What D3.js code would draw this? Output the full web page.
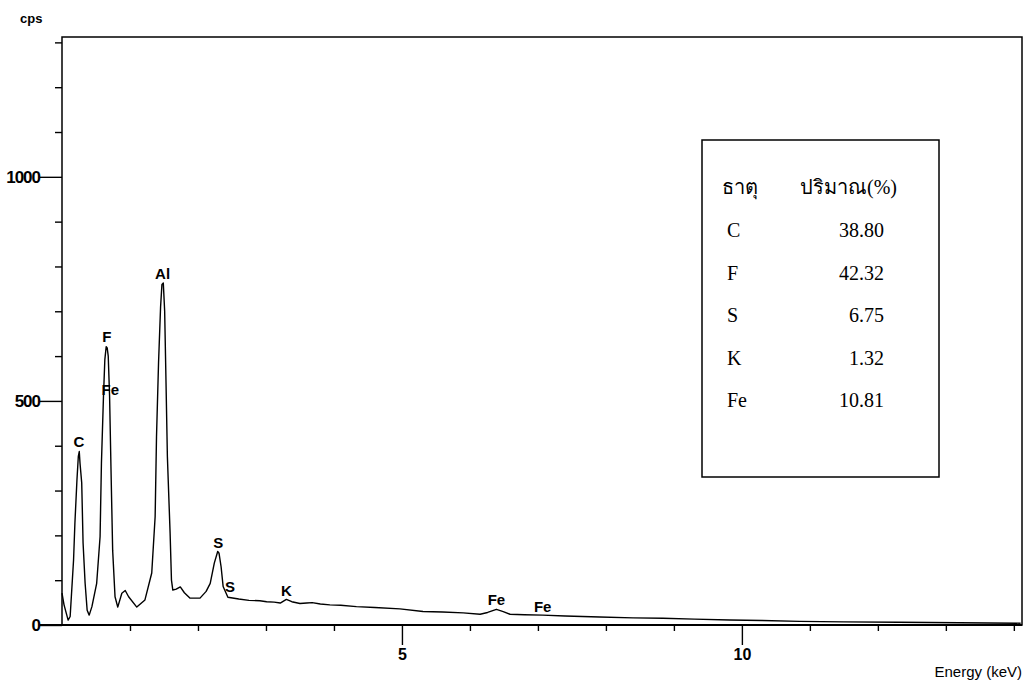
<!DOCTYPE html>
<html>
<head>
<meta charset="utf-8">
<script src="https://cdn.jsdelivr.net/npm/d3@7"></script>
<style>
  body { margin: 0; background: #fff; }
  svg { display: block; }
  .ax text, .lbl { font-family: "Liberation Sans", Arial, sans-serif; font-weight: bold; }
</style>
</head>
<body>
<div id="chart"></div>
<script>
// spectrum: energy (keV) and counts (cps)
const energy = [0.00, 0.03, 0.09, 0.12, 0.17, 0.19, 0.22, 0.24, 0.254, 0.265, 0.29, 0.31, 0.34, 0.37, 0.40,
  0.44, 0.51, 0.56, 0.58, 0.61, 0.63, 0.650, 0.665, 0.68, 0.70, 0.72, 0.745, 0.78, 0.82, 0.88, 0.93, 0.98, 1.10,
  1.22, 1.32, 1.37, 1.39, 1.42, 1.45, 1.47, 1.49, 1.51, 1.53, 1.55, 1.59, 1.61, 1.63, 1.68, 1.74, 1.80, 1.88,
  2.03, 2.12, 2.18, 2.24, 2.29, 2.31, 2.34, 2.37, 2.44, 2.60, 2.75, 2.91, 3.01, 3.12, 3.21, 3.30, 3.38, 3.50,
  3.60, 3.68, 3.80, 3.94, 4.10, 4.33, 4.60, 4.97, 5.31, 5.60, 5.90, 6.15, 6.26, 6.39, 6.49, 6.59, 6.80,
  7.07, 7.40, 7.91, 8.40, 8.84, 9.30, 9.82, 10.30, 10.85, 11.50, 12.30, 13.20, 14.10];
const counts = [71, 45, 11, 19, 145, 228, 324, 376, 387, 361, 317, 183, 93, 33, 22,
  41, 93, 197, 361, 510, 592, 621, 618, 600, 510, 353, 167, 63, 40, 71, 77, 63, 40,
  56, 116, 242, 420, 585, 710, 760, 763, 700, 540, 376, 205, 100, 78, 80, 85, 72, 60,
  60, 75, 93, 138, 164, 160, 130, 86, 62, 58, 55, 54, 52, 51, 49, 57, 52, 48,
  49, 50, 47, 45, 44, 41, 39, 36, 30, 29, 27, 24, 28, 35, 30, 24, 23,
  22, 20, 18, 16, 15, 13, 11, 10, 8, 7, 6, 5, 4];

// peak markers (baseline of each label, in data units)
const peakNames = ["C", "F", "Fe", "Al", "S", "S", "K", "Fe", "Fe"];
const peakKeV = [0.25, 0.66, 0.71, 1.48, 2.30, 2.47, 3.30, 6.39, 7.07];
const peakCps = [398, 631, 513, 772, 172, 74, 65, 45, 30];

// composition table
const tableHead = ["ธาตุ", "ปริมาณ(%)"];
const elements = ["C", "F", "S", "K", "Fe"];
const percents = ["38.80", "42.32", "6.75", "1.32", "10.81"];

const xTickValues = d3.range(1, 15);
const xLabelled = [5, 10];
const yTickValues = d3.range(0, 1301, 100);
const yLabelled = [0, 500, 1000];

const W = 1032, H = 688;
const margin = {left: 62, right: 1022, top: 37, bottom: 625};

const svg = d3.select("#chart").append("svg")
  .attr("width", W).attr("height", H);

const x = d3.scaleLinear().domain([0, 14.12]).range([margin.left, margin.right]);
const y = d3.scaleLinear().domain([0, 1312]).range([margin.bottom, margin.top]);

// frame
svg.append("rect")
  .attr("x", margin.left).attr("y", margin.top)
  .attr("width", margin.right - margin.left).attr("height", margin.bottom - margin.top)
  .attr("fill", "none").attr("stroke", "#000").attr("stroke-width", 1.5);

// x axis, ticks downward
const xAxis = d3.axisBottom(x)
  .tickValues(xTickValues)
  .tickSize(6)
  .tickFormat(d => xLabelled.includes(d) ? d : "");
const gx = svg.append("g").attr("class", "ax")
  .attr("transform", `translate(0,${margin.bottom})`)
  .call(xAxis);
gx.select(".domain").remove();
gx.selectAll(".tick line").attr("stroke-width", 1.4)
  .attr("y2", d => xLabelled.includes(d) ? 20 : 6);
gx.selectAll(".tick text").attr("y", 35).attr("dy", 0).attr("font-size", 16).attr("fill", "#000");
svg.append("line")
  .attr("x1", 40).attr("x2", margin.right)
  .attr("y1", margin.bottom).attr("y2", margin.bottom)
  .attr("stroke", "#000").attr("stroke-width", 1.8);

// y axis
const yAxis = d3.axisLeft(y)
  .tickValues(yTickValues)
  .tickSize(7)
  .tickFormat(d => yLabelled.includes(d) ? d : "");
const gy = svg.append("g").attr("class", "ax")
  .attr("transform", `translate(${margin.left},0)`)
  .call(yAxis);
gy.select(".domain").remove();
gy.selectAll(".tick line").attr("stroke-width", 1.4)
  .attr("x2", d => yLabelled.includes(d) ? -22 : -7);
gy.selectAll(".tick text").attr("x", -22).attr("dx", 0)
  .attr("font-size", 17).attr("fill", "#000").attr("letter-spacing", -1);

svg.append("text").attr("class", "lbl").attr("x", 20).attr("y", 23)
  .attr("font-size", 13).text("cps");
svg.append("text").attr("class", "lbl").attr("x", 1022).attr("y", 677).attr("text-anchor", "end")
  .style("font-weight", "normal").attr("font-size", 15).text("Energy (keV)");

// spectrum
const line = d3.line()
  .x((d, i) => x(energy[i]))
  .y(d => y(d));
svg.append("path")
  .datum(counts)
  .attr("d", line)
  .attr("fill", "none").attr("stroke", "#000").attr("stroke-width", 1.4)
  .attr("stroke-linejoin", "round");

// peak labels
svg.append("g").selectAll("text")
  .data(peakNames)
  .join("text")
  .attr("class", "lbl")
  .attr("x", (d, i) => x(peakKeV[i]))
  .attr("y", (d, i) => y(peakCps[i]))
  .attr("text-anchor", "middle")
  .attr("font-size", 15)
  .text(d => d);

// table box
const tb = svg.append("g").attr("font-family", "Liberation Serif, Times New Roman, serif")
  .attr("font-size", 20);
tb.append("rect").attr("x", 702).attr("y", 140).attr("width", 237).attr("height", 337)
  .attr("fill", "#fff").attr("stroke", "#000").attr("stroke-width", 1.5);
tb.append("text").attr("x", 722).attr("y", 194).text(tableHead[0]);
tb.append("text").attr("x", 800).attr("y", 194).text(tableHead[1]);
tb.selectAll(".el").data(elements).join("text").attr("class", "el")
  .attr("x", 727).attr("y", (d, i) => 237 + i * 42.5).text(d => d);
tb.selectAll(".pc").data(percents).join("text").attr("class", "pc")
  .attr("x", 884).attr("y", (d, i) => 237 + i * 42.5).attr("text-anchor", "end").text(d => d);
</script>
</body>
</html>
